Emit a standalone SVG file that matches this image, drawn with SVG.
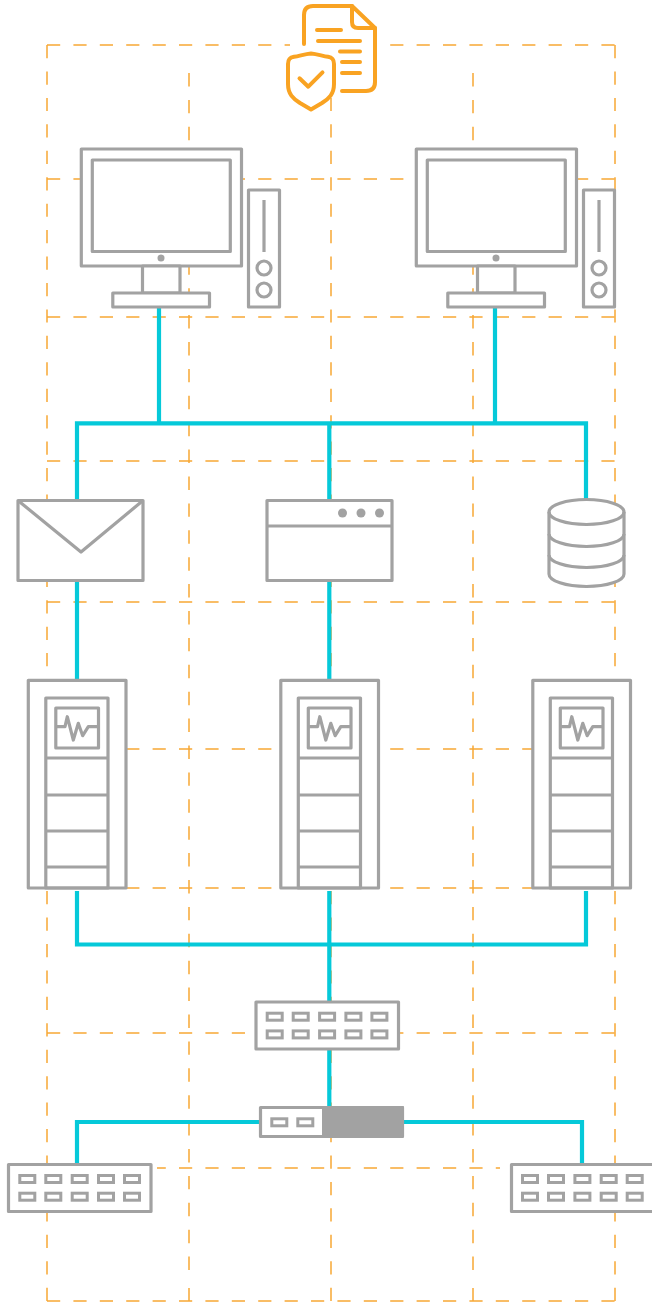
<svg xmlns="http://www.w3.org/2000/svg" width="652" height="1303" viewBox="0 0 652 1303">
<style>
.g{fill:none;stroke:#f8a834;stroke-width:1.5}
.h{stroke-dasharray:13.2 13.2}
.v{stroke-dasharray:13.22 13.22}
.w{stroke-dasharray:13.45 13.45}
.c{fill:none;stroke:#05c9d9;stroke-width:4.200}
.n{fill:#fff;stroke:#a2a2a2;stroke-width:3.200;stroke-linejoin:round}
.l{fill:none;stroke:#a2a2a2;stroke-width:3.200;stroke-linejoin:round}
.t{fill:none;stroke:#a2a2a2;stroke-width:3}
.d{fill:#a2a2a2}
.m{fill:#fff}
.o{fill:none;stroke:#f9a322;stroke-width:4;stroke-linecap:round;stroke-linejoin:round}
</style>
<defs>
<g id="pc">
<rect class="n" x="81.300" y="149" width="160.200" height="117"/>
<rect class="n" x="92.300" y="160" width="138" height="91.500"/>
<circle class="d" cx="161" cy="258" r="3.500"/>
<rect class="n" x="142.500" y="266" width="37.500" height="27"/>
<rect class="n" x="112.800" y="293" width="96.700" height="14"/>
<rect class="n" x="248.500" y="190" width="31" height="117"/>
<line class="l" x1="264" y1="200" x2="264" y2="252"/>
<circle class="l" cx="264" cy="268" r="7"/>
<circle class="l" cx="264" cy="290" r="7"/>
</g>
<g id="rack">
<rect class="n" x="28.300" y="680.300" width="97.700" height="207.700"/>
<rect class="l" x="45.800" y="698" width="62.200" height="190"/>
<rect class="l" x="55.800" y="708" width="42.700" height="40"/>
<path class="l" d="M56.700 726.700H65L67.300 716.700 73.300 740 78.300 723.300 82.700 735.700 88.300 726.700H98.300"/>
<path class="l" d="M45.800 758H108M45.800 795H108M45.800 831H108M45.800 867H108"/>
</g>
<g id="ports">
<rect class="t" x="19.800" y="1175.500" width="15" height="7"/>
<rect class="t" x="45.800" y="1175.500" width="15" height="7"/>
<rect class="t" x="72.200" y="1175.500" width="15" height="7"/>
<rect class="t" x="98.500" y="1175.500" width="15" height="7"/>
<rect class="t" x="124.500" y="1175.500" width="15" height="7"/>
<rect class="t" x="19.800" y="1193.200" width="15" height="7"/>
<rect class="t" x="45.800" y="1193.200" width="15" height="7"/>
<rect class="t" x="72.200" y="1193.200" width="15" height="7"/>
<rect class="t" x="98.500" y="1193.200" width="15" height="7"/>
<rect class="t" x="124.500" y="1193.200" width="15" height="7"/>
</g>
</defs>
<g id="grid">
<path class="g h" d="M47 45H615M47 179H615M47 317H615M47 461H615M47 602H615M47 749H615M47 888H615M47 1033H615M47 1168H615M47 1301H615"/>
<path class="g v" d="M47 45V1301M331 45V1301M615 45V1301"/>
<path class="g w" d="M189 73V1271M473 73V1271"/>
<path class="g" d="M189 1288V1301M473 1288V1301"/>
<rect class="m" x="290" y="40" width="41" height="10"/>
<rect class="m" x="500" y="1160" width="11" height="16"/>
<rect class="m" x="151" y="1160" width="6" height="16"/>
<rect class="m" x="398" y="1028" width="2" height="10"/>
</g>
<g id="connectors">
<path class="c" d="M159 307V423.300M495 307V423.300M77 500V423.300H586V500M329.300 423.300V500M77 580V680M329.300 580V680"/>
<path class="c" d="M77 891V944.500H586V891M329.300 891V1002M329.300 1049V1107M260 1122H77V1164M404 1122H582V1164"/>
</g>
<g id="doc-icon">
<path d="M304 15Q304 6 313 6H352L375 28V82Q375 91 366 91H304Z" class="m"/>
<path class="o" d="M304 44V15Q304 6 313 6H352L375 28V82Q375 91 366 91H342"/>
<path class="o" d="M352 6V22Q352 28 358 28H375"/>
<path class="o" d="M317 30H341M318 41H360M340 51.500H360M342 62H360M342 73H360"/>
<path d="M288 64C288 59 290 57.500 294 56.800 300 55.800 305 54 311 53.500 317 54 322 55.800 328 56.800 332 57.500 334 59 334 64V84C334 94 329 98.500 322 103L311 109.500 300 103C293 98.500 288 94 288 84Z" fill="#fff" stroke="#f9a322" stroke-width="4" stroke-linejoin="round"/>
<path class="o" d="M299.500 78.300L308.300 86.700 322.500 72.300"/>
</g>
<g id="pc-1"><use href="#pc"/></g>
<g id="pc-2"><use href="#pc" x="335"/></g>
<g id="mail">
<rect class="n" x="18" y="500.500" width="125" height="80"/>
<path class="l" d="M18 500.500L81 552 143 500.500"/>
</g>
<g id="window">
<rect class="n" x="267" y="500.500" width="125" height="80"/>
<line class="l" x1="267" y1="526" x2="392" y2="526"/>
<circle class="d" cx="342.500" cy="513" r="4.500"/>
<circle class="d" cx="361" cy="513" r="4.500"/>
<circle class="d" cx="379.500" cy="513" r="4.500"/>
</g>
<g id="database">
<path class="n" d="M549 512A37.500 12.500 0 0 1 624 512V574A37.500 12.500 0 0 1 549 574Z"/>
<path class="l" d="M549 512A37.500 12.500 0 0 0 624 512M549 534A37.500 12.500 0 0 0 624 534M549 555A37.500 12.500 0 0 0 624 555"/>
</g>
<g id="rack-1"><use href="#rack"/></g>
<g id="rack-2"><use href="#rack" x="252.500"/></g>
<g id="rack-3"><use href="#rack" x="504.500"/></g>
<g id="switch-top">
<rect class="n" x="256" y="1002" width="142.500" height="47"/>
<use href="#ports" x="247.400" y="-162.300"/>
</g>
<g id="router">
<rect class="n" x="260.500" y="1107.500" width="142" height="29"/>
<rect class="d" x="322" y="1106" width="82" height="31.500" rx="1"/>
<rect class="t" x="271.800" y="1118.800" width="15" height="7"/>
<rect class="t" x="297.800" y="1118.800" width="15" height="7"/>
</g>
<g id="switch-left">
<rect class="n" x="8.500" y="1164.500" width="142.500" height="47"/>
<use href="#ports"/>
</g>
<g id="switch-right">
<rect class="n" x="511.500" y="1164.500" width="142.500" height="47"/>
<use href="#ports" x="502.700"/>
</g>
</svg>
